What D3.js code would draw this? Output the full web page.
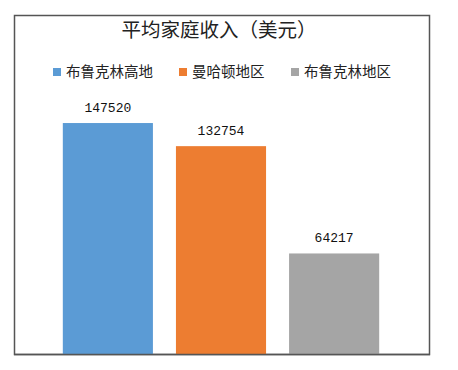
<!DOCTYPE html>
<html><head><meta charset="utf-8">
<script src="https://cdn.jsdelivr.net/npm/d3@7/dist/d3.min.js"></script>
<style>body{margin:0;background:#fff}</style>
</head><body>
<script>
const title = "平均家庭收入（美元）";
const categories = ["布鲁克林高地", "曼哈顿地区", "布鲁克林地区"];
const values = [147520, 132754, 64217];
const colors = ["#5B9BD5", "#ED7D31", "#A5A5A5"];

const W = 458, H = 370;
const svg = d3.select("body").append("svg").attr("width", W).attr("height", H);

// chart frame
svg.append("rect").attr("x", 14.5).attr("y", 15.5).attr("width", 415).attr("height", 339)
  .attr("fill", "#fff").attr("stroke", "#555").attr("stroke-width", 1.5);

svg.append("text").attr("x", 219).attr("y", 37).attr("text-anchor", "middle")
  .attr("font-family", "'Noto Sans CJK SC', sans-serif").attr("font-size", 19.5)
  .attr("fill", "#222").text(title);

// legend
const legendX = [53, 179, 291];
categories.forEach((c, i) => {
  svg.append("rect").attr("x", legendX[i]).attr("y", 68).attr("width", 8).attr("height", 8).attr("fill", colors[i]);
  svg.append("text").attr("x", legendX[i] + 13).attr("y", 77)
    .attr("font-family", "'Noto Sans CJK SC', sans-serif").attr("font-size", 14.5)
    .attr("fill", "#222").text(c);
});

const x = d3.scaleBand().domain(categories).range([51.5, 390.5]).paddingInner(0.2035).paddingOuter(0.1);
const y = d3.scaleLinear().domain([0, 160000]).range([354, 103.5]);

svg.selectAll("rect.bar").data(values).join("rect").attr("class", "bar")
  .attr("x", (d, i) => x(categories[i])).attr("width", x.bandwidth())
  .attr("y", d => y(d)).attr("height", d => y(0) - y(d))
  .attr("fill", (d, i) => colors[i]);

svg.selectAll("text.lbl").data(values).join("text").attr("class", "lbl")
  .attr("x", (d, i) => x(categories[i]) + x.bandwidth() / 2)
  .attr("y", d => y(d) - 11).attr("text-anchor", "middle")
  .attr("font-family", "'Liberation Mono', monospace").attr("font-size", 13)
  .attr("fill", "#111").text(d => d);

// redraw bottom frame line over bars
svg.append("line").attr("x1", 14).attr("x2", 430).attr("y1", 354.5).attr("y2", 354.5)
  .attr("stroke", "#555").attr("stroke-width", 1.5);
</script>
</body></html>
